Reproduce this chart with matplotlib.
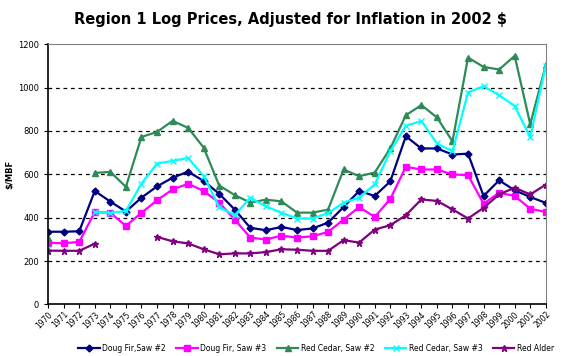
import numpy as np
import matplotlib
matplotlib.use("Agg")
import matplotlib.pyplot as plt

nan = np.nan

# DATA
years = list(range(1970, 2003))

doug_fir_2 = [335, 335, 337, 523, 474, 428, 492, 544, 584, 612, 569, 510, 437, 353, 342,
              357, 343, 350, 377, 449, 523, 500, 567, 775, 719, 719, 691, 695, 500, 572,
              526, 495, 468]
doug_fir_3 = [284, 282, 288, 426, 422, 362, 422, 480, 530, 556, 523, 469, 391, 308, 299,
              317, 308, 314, 334, 391, 449, 403, 486, 634, 622, 622, 599, 596, 464, 515,
              500, 441, 426]
red_cedar_2 = [304, nan, nan, 606, 611, 542, 772, 795, 846, 814, 723, 548, 504, 469, 483,
               475, 423, 423, 437, 622, 591, 608, 719, 872, 919, 862, 752, 1138, 1095, 1083,
               1146, 831, 1103]
red_cedar_3 = [256, nan, nan, 426, 421, 431, 557, 649, 662, 675, 592, 449, 411, 492, 452,
               423, 396, 396, 421, 469, 492, 553, 705, 823, 846, 742, 706, 977, 1006, 965,
               914, 772, 1100]
red_alder = [248, 247, 247, 280, nan, nan, nan, 311, 291, 281, 254, 231, 235, 235, 241,
             254, 252, 247, 247, 296, 285, 345, 365, 411, 484, 477, 438, 396, 445, 507,
             538, 507, 552]

series = [
    ("Doug Fir,Saw #2", doug_fir_2, "#000080", "D", 3.5),
    ("Doug Fir, Saw #3", doug_fir_3, "#ff00ff", "s", 4.5),
    ("Red Cedar, Saw #2", red_cedar_2, "#2e8b57", "^", 4.5),
    ("Red Cedar, Saw #3", red_cedar_3, "#00ffff", "x", 4.5),
    ("Red Alder", red_alder, "#800080", "*", 4.5),
]

fig = plt.figure(figsize=(5.8, 3.56), dpi=100)
ax = fig.add_axes([0.083, 0.145, 0.858, 0.731])

x = np.arange(len(years))
for label, vals, color, marker, ms in series:
    ax.plot(x, vals, color=color, marker=marker, ms=ms, lw=1.6,
            markeredgewidth=1.0, label=label)

ax.set_xlim(0, len(years) - 1)
ax.set_ylim(0, 1200)
ax.set_yticks(range(0, 1201, 200))
ax.set_xticks(x)
ax.set_xticklabels([str(y) for y in years], rotation=45, ha="right",
                   rotation_mode="anchor", fontsize=5.5)
ax.tick_params(axis="y", labelsize=6, length=3, width=0.8)
ax.tick_params(axis="x", length=3, width=0.8, pad=1)

for v in range(200, 1200, 200):
    ax.axhline(v, color="black", lw=0.9, ls=(0, (3, 3)), zorder=0)

ax.spines["top"].set_color("#808080")
ax.spines["right"].set_color("#808080")
ax.spines["left"].set_linewidth(1.2)
ax.spines["bottom"].set_linewidth(1.2)

ax.set_ylabel("$/MBF", fontsize=6, fontweight="bold", labelpad=3)

fig.text(0.5, 0.945, "Region 1 Log Prices, Adjusted for Inflation in 2002 $",
         ha="center", va="center", fontsize=10.5, fontweight="bold")

fig.legend(loc="lower center", bbox_to_anchor=(0.545, -0.01), ncol=5, frameon=False,
           fontsize=5.5, handlelength=2.8, columnspacing=1.4, handletextpad=0.3)

fig.savefig("out.png", dpi=100)
